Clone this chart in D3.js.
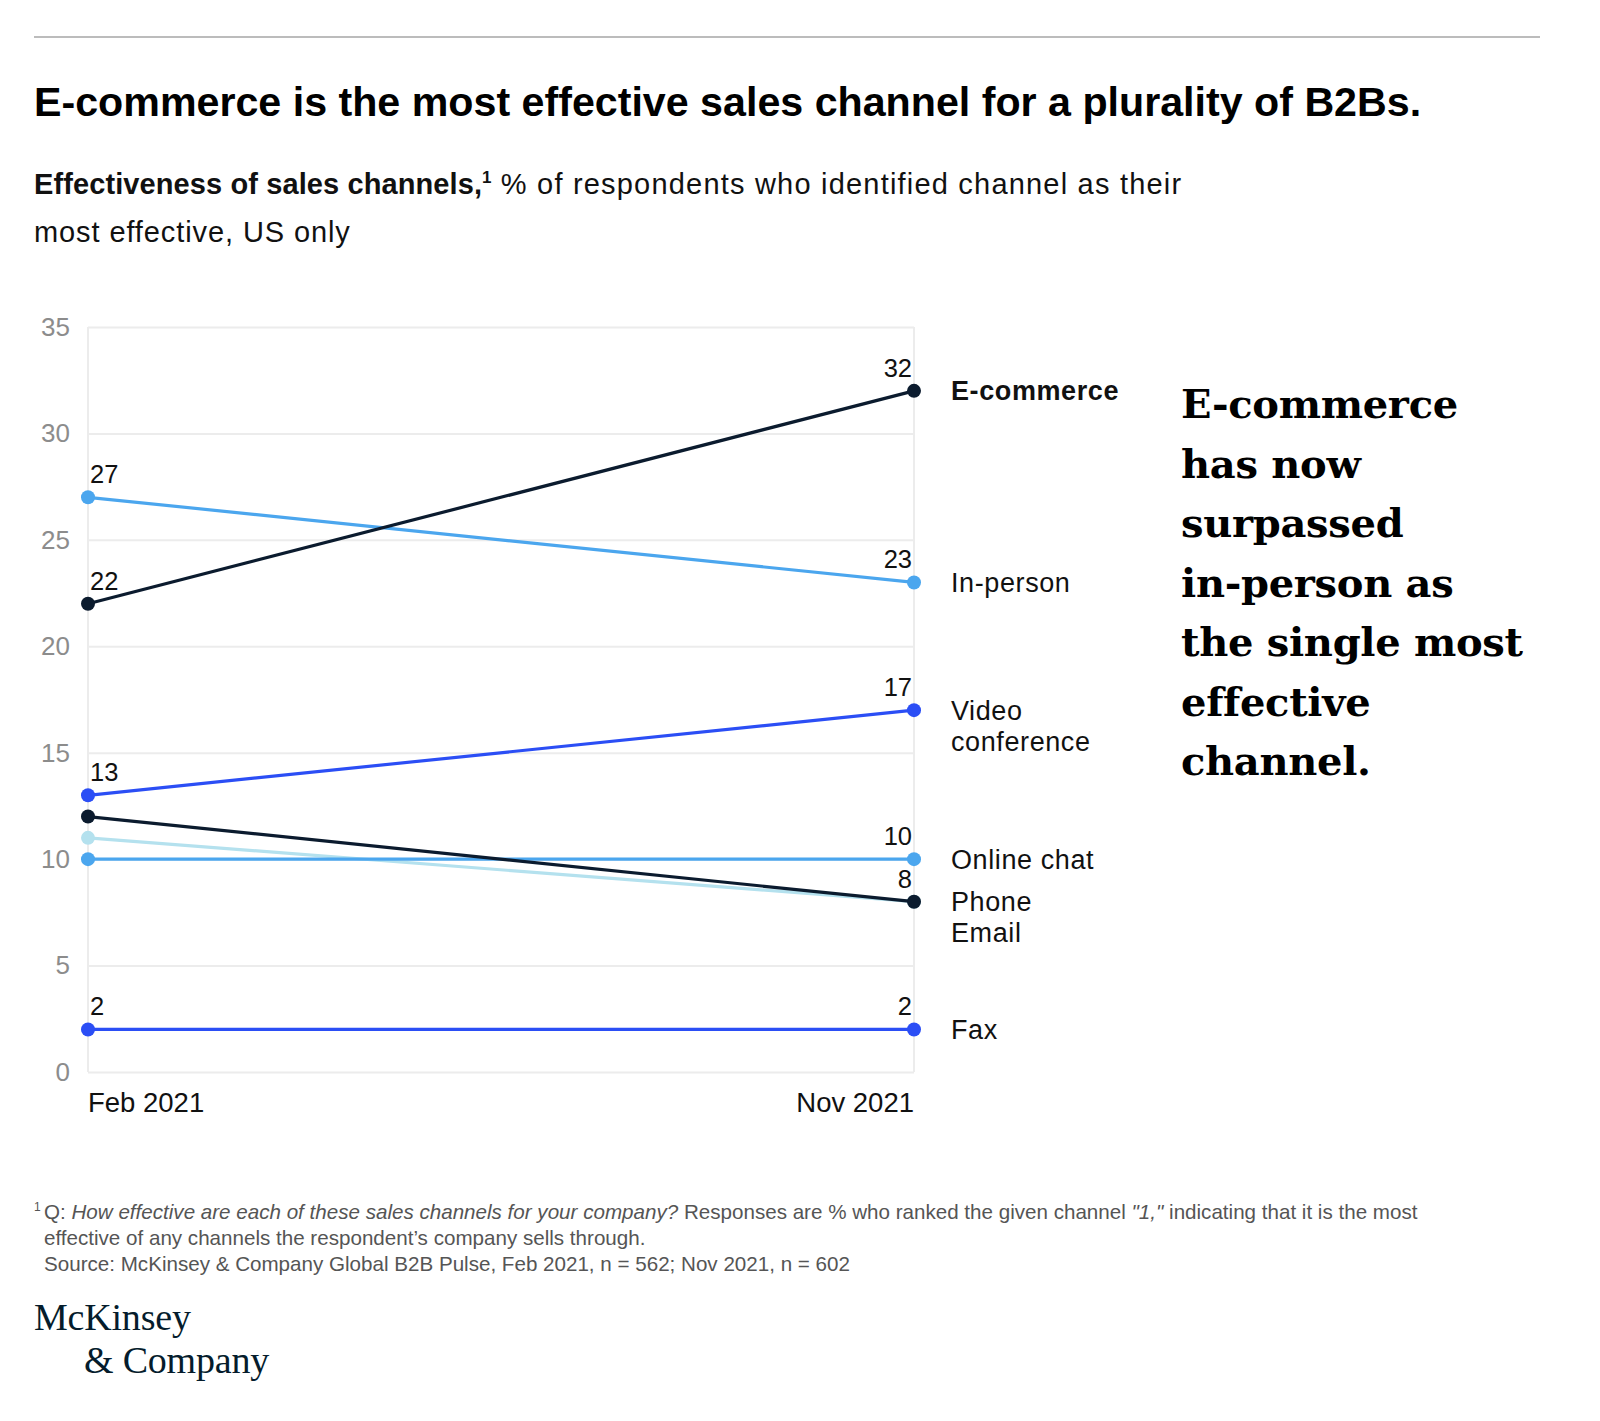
<!DOCTYPE html>
<html>
<head>
<meta charset="utf-8">
<script src="https://cdn.jsdelivr.net/npm/d3@7"></script>
<style>
  html, body { margin: 0; padding: 0; background: #fff; }
  svg { display: block; font-family: "Liberation Sans", Arial, sans-serif; }
</style>
</head>
<body>
<svg id="chart" width="1600" height="1421"></svg>
<script>
// periods on the x axis
const periods = ['Feb 2021', 'Nov 2021'];
// channels, top to bottom in the right-hand labels
const channels = ['E-commerce', 'In-person', 'Video conference', 'Online chat', 'Phone', 'Email', 'Fax'];
const febValues = [22, 27, 13, 10, 12, 11, 2];
const novValues = [32, 23, 17, 10, 8, 8, 2];
// which value labels are printed at each end
const febLabelShown = [true, true, true, false, false, false, true];
const novLabelShown = [true, true, true, true, true, false, true];
const channelColors = ['#0b1b2e', '#4ba6ee', '#2b4ef5', '#4ba6ee', '#0b1b2e', '#b4e1ee', '#2b4ef5'];
const yTicks = [0, 5, 10, 15, 20, 25, 30, 35];
const annotationLines = ['E-commerce', 'has now', 'surpassed', 'in-person as', 'the single most', 'effective', 'channel.'];

const svg = d3.select('#chart');

// top rule
svg.append('line')
    .attr('x1', 34).attr('x2', 1540)
    .attr('y1', 37).attr('y2', 37)
    .attr('stroke', '#bcbcbc').attr('stroke-width', 2);

// title
svg.append('text')
    .attr('x', 34).attr('y', 116)
    .attr('font-size', 41.2).attr('font-weight', 700)
    .attr('fill', '#000')
    .text('E-commerce is the most effective sales channel for a plurality of B2Bs.');

// subtitle
const sub = svg.append('text')
    .attr('x', 34).attr('y', 194)
    .attr('font-size', 29).attr('fill', '#111');
sub.append('tspan').attr('font-weight', 700).attr('letter-spacing', 0.1).text('Effectiveness of sales channels,');
sub.append('tspan').attr('font-size', 17).attr('dy', -11).attr('font-weight', 700).text('1');
sub.append('tspan').attr('dy', 11).attr('letter-spacing', 1.2).text(' % of respondents who identified channel as their');
svg.append('text')
    .attr('x', 34).attr('y', 242)
    .attr('font-size', 29).attr('letter-spacing', 0.9).attr('fill', '#111')
    .text('most effective, US only');

// chart area
const x = d3.scalePoint().domain(periods).range([88, 914]);
const y = d3.scaleLinear().domain([0, 35]).range([1072, 327]);

const g = svg.append('g');

// horizontal grid
const yAxis = d3.axisLeft(y).tickValues(yTicks).tickSize(-(x.range()[1] - x.range()[0])).tickPadding(18);
const yG = g.append('g').attr('transform', `translate(${x.range()[0]},0)`).call(yAxis);
yG.select('.domain').remove();
yG.selectAll('.tick line').attr('stroke', '#ececec').attr('stroke-width', 2);
yG.selectAll('.tick text')
    .attr('font-size', 26).attr('fill', '#8c8c8c')
    .attr('font-family', '"Liberation Sans", Arial, sans-serif');

// vertical edges of the plot
g.selectAll('.vedge').data(periods).join('line')
    .attr('class', 'vedge')
    .attr('x1', d => x(d)).attr('x2', d => x(d))
    .attr('y1', y(35)).attr('y2', y(0))
    .attr('stroke', '#ececec').attr('stroke-width', 2);

// x labels
g.selectAll('.xlab').data(periods).join('text')
    .attr('class', 'xlab')
    .attr('x', d => x(d))
    .attr('y', 1112)
    .attr('text-anchor', (d, i) => i === 0 ? 'start' : 'end')
    .attr('font-size', 27.5).attr('fill', '#111')
    .text(d => d);

// series
const series = channels.map((c, i) => ({
    name: c,
    color: channelColors[i],
    values: [febValues[i], novValues[i]],
    shown: [febLabelShown[i], novLabelShown[i]]
}));
// draw light email first so the others sit on top
const drawOrder = ['Email', 'Online chat', 'In-person', 'Fax', 'Video conference', 'Phone', 'E-commerce']
    .map(n => series.find(s => s.name === n));

const line = d3.line().x((d, i) => x(periods[i])).y(d => y(d));

const sg = g.selectAll('.series').data(drawOrder).join('g').attr('class', 'series');
sg.append('path')
    .attr('d', d => line(d.values))
    .attr('fill', 'none')
    .attr('stroke', d => d.color)
    .attr('stroke-width', 3.2);
sg.selectAll('circle').data(d => d.values.map((v, i) => ({v, i, color: d.color}))).join('circle')
    .attr('cx', d => x(periods[d.i]))
    .attr('cy', d => y(d.v))
    .attr('r', 7)
    .attr('fill', d => d.color);

// value labels
const valueLabels = [];
series.forEach(s => s.values.forEach((v, i) => {
    if (s.shown[i]) valueLabels.push({v, i});
}));
g.selectAll('.vlab').data(valueLabels).join('text')
    .attr('class', 'vlab')
    .attr('x', d => x(periods[d.i]) + (d.i === 0 ? 2 : -2))
    .attr('y', d => y(d.v) - 14)
    .attr('text-anchor', d => d.i === 0 ? 'start' : 'end')
    .attr('font-size', 25.5).attr('fill', '#111')
    .text(d => d.v);

// channel names at the right end, stacked when they collide
const lineH = 31;
let lastBottom = -Infinity;
const nameLabels = series.map(s => {
    const words = s.name === 'Video conference' ? ['Video', 'conference'] : [s.name];
    let top = y(s.values[1]);
    if (top < lastBottom + lineH) top = lastBottom + lineH;
    lastBottom = top + (words.length - 1) * lineH;
    return {name: s.name, words, top};
});
const nl = g.selectAll('.nlab').data(nameLabels).join('text')
    .attr('class', 'nlab')
    .attr('y', d => d.top)
    .attr('font-size', 27).attr('letter-spacing', 0.6).attr('fill', '#111')
    .attr('font-weight', d => d.name === 'E-commerce' ? 700 : 400);
nl.selectAll('tspan').data(d => d.words).join('tspan')
    .attr('x', 951)
    .attr('dy', (d, i) => i === 0 ? '0.35em' : lineH)
    .text(d => d);

// annotation
svg.append('text')
    .attr('font-family', '"DejaVu Serif", Georgia, serif')
    .attr('font-weight', 700)
    .attr('font-size', 40)
    .attr('fill', '#000')
    .selectAll('tspan').data(annotationLines).join('tspan')
    .attr('x', 1181)
    .attr('y', (d, i) => 418 + i * 59.5)
    .attr('letter-spacing', -0.3)
    .text(d => d);

// footnote
const foot = svg.append('g').attr('font-size', 20.6).attr('fill', '#555');
foot.append('text').attr('x', 34).attr('y', 1211).attr('font-size', 12).text('1');
const f1 = foot.append('text').attr('x', 44).attr('y', 1219);
f1.append('tspan').text('Q: ');
f1.append('tspan').attr('font-style', 'italic').text('How effective are each of these sales channels for your company?');
f1.append('tspan').text(' Responses are % who ranked the given channel ');
f1.append('tspan').attr('font-style', 'italic').text('"1,"');
f1.append('tspan').text(' indicating that it is the most');
foot.append('text').attr('x', 44).attr('y', 1245)
    .text('effective of any channels the respondent\u2019s company sells through.');
foot.append('text').attr('x', 44).attr('y', 1271)
    .text('Source: McKinsey & Company Global B2B Pulse, Feb 2021, n = 562; Nov 2021, n = 602');

// logo, one text block on two lines
const logo = svg.append('text')
    .attr('font-family', '"Liberation Serif", "Times New Roman", serif')
    .attr('font-size', 38).attr('fill', '#051c2c').attr('letter-spacing', -0.2);
logo.append('tspan').attr('x', 34).attr('y', 1330).text('McKinsey');
logo.append('tspan').attr('x', 84).attr('y', 1373).text('& Company');
</script>
</body>
</html>
